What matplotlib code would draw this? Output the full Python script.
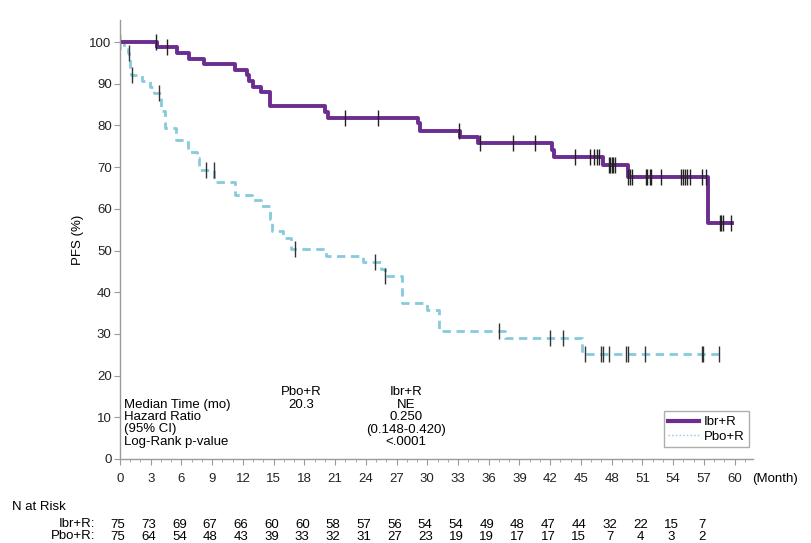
import matplotlib
matplotlib.use('Agg')
import matplotlib.pyplot as plt
from matplotlib.lines import Line2D
from matplotlib.ticker import MultipleLocator

plt.rcParams['font.family'] = ['Liberation Sans Narrow', 'Liberation Sans', 'DejaVu Sans']
plt.rcParams['font.size'] = 9.5

# Kaplan-Meier steps (month, PFS %)
ibr_t = [0, 3.6, 5.6, 6.7, 8.2, 11.2, 12.4, 12.6, 13.0, 13.8, 14.6, 20.0, 20.3,
         29.1, 29.3, 33.2, 35.0, 42.2, 42.4, 47.2, 49.6, 57.4, 59.8]
ibr_s = [100, 98.7, 97.3, 96.0, 94.7, 93.3, 92.0, 90.7, 89.3, 88.0, 84.6, 83.3, 81.9,
         80.5, 78.7, 77.3, 75.7, 74.1, 72.5, 70.5, 67.7, 56.5, 56.5]
ibr_cens_t = [0, 3.5, 4.6, 22.0, 25.2, 33.1, 35.1, 38.4, 40.5, 44.4, 45.9, 46.3, 46.6,
              46.8, 47.7, 47.8, 48.0, 48.1, 48.3, 49.6, 49.8, 50.0, 51.4, 51.5, 51.7,
              51.8, 52.8, 54.8, 55.0, 55.2, 55.4, 55.7, 56.8, 57.2, 58.6, 58.7, 58.9, 59.7]
ibr_cens_s = [100, 100, 98.7, 81.9, 81.9, 78.7, 75.7, 75.7, 75.7, 72.5, 72.5, 72.5, 72.5,
              72.5, 70.5, 70.5, 70.5, 70.5, 70.5, 67.7, 67.7, 67.7, 67.7, 67.7, 67.7,
              67.7, 67.7, 67.7, 67.7, 67.7, 67.7, 67.7, 67.7, 67.7, 56.5, 56.5, 56.5, 56.5]

pbo_t = [0, 0.4, 0.8, 0.9, 1.0, 1.1, 2.1, 2.9, 3.3, 4.0, 4.4, 5.5, 6.6, 7.5, 7.7, 9.2,
         11.2, 12.9, 13.8, 14.6, 14.8, 15.9, 16.7, 20.1, 23.7, 25.5, 25.9, 27.5, 30.0,
         31.1, 37.6, 45.1, 58.5]
pbo_s = [100, 98.7, 97.3, 96.0, 93.3, 92.0, 90.7, 89.3, 87.9, 83.5, 79.4, 76.5, 73.7,
         72.2, 69.2, 66.5, 63.3, 62.1, 60.6, 57.6, 54.7, 53.1, 50.4, 48.7, 47.2, 45.6,
         44.0, 37.3, 35.7, 30.8, 29.0, 25.2, 25.2]
pbo_cens_t = [0.9, 1.2, 3.8, 8.4, 9.2, 17.1, 24.9, 25.9, 37.0, 42.0, 43.3, 45.4, 47.0,
              47.2, 47.7, 49.4, 49.6, 51.3, 56.8, 56.9, 58.5]
pbo_cens_s = [97.3, 92.0, 87.9, 69.2, 69.2, 50.4, 47.2, 44.0, 30.8, 29.0, 29.0, 25.2, 25.2,
              25.2, 25.2, 25.2, 25.2, 25.2, 25.2, 25.2, 25.2]

risk_months = [0, 3, 6, 9, 12, 15, 18, 21, 24, 27, 30, 33, 36, 39, 42, 45, 48, 51, 54, 57]
ibr_risk = [75, 73, 69, 67, 66, 60, 60, 58, 57, 56, 54, 54, 49, 48, 47, 44, 32, 22, 15, 7]
pbo_risk = [75, 64, 54, 48, 43, 39, 33, 32, 31, 27, 23, 19, 19, 17, 17, 15, 7, 4, 3, 2]

purple = '#6b2d8f'
cyan = '#86cbdc'
grey = '#9a9a9a'

fig = plt.figure(figsize=(8.12, 5.43), dpi=100)
ax = fig.add_axes([0.1478, 0.1547, 0.7795, 0.8085])

ax.step(pbo_t, pbo_s, where='post', color=cyan, lw=2, linestyle=(0, (3, 2)))
ax.step(ibr_t, ibr_s, where='post', color=purple, lw=2.8)
ax.plot(pbo_cens_t, pbo_cens_s, linestyle='none', marker='|', color='#333333', ms=12, mew=1)
ax.plot(ibr_cens_t, ibr_cens_s, linestyle='none', marker='|', color='#222222', ms=12, mew=1)

ax.set_xlim(0, 61.8)
ax.set_ylim(0, 105.3)
ax.xaxis.set_major_locator(MultipleLocator(3))
ax.xaxis.set_minor_locator(MultipleLocator(1))
ax.yaxis.set_major_locator(MultipleLocator(10))
for s in ['top', 'right']:
    ax.spines[s].set_visible(False)
for s in ['left', 'bottom']:
    ax.spines[s].set_color(grey)
    ax.spines[s].set_linewidth(1)
ax.tick_params(axis='both', which='both', color=grey, labelcolor='#222222', labelsize=9.5)
ax.tick_params(axis='x', which='major', length=4, pad=6)
ax.tick_params(axis='x', which='minor', length=2.5)
ax.tick_params(axis='y', length=4, pad=2)
ax.set_ylabel('PFS (%)', fontsize=9.5, labelpad=4)
ax.text(64.0, -0.045, '(Month)', transform=ax.get_xaxis_transform(),
        ha='center', va='center', fontsize=9.5)

# statistics block
ax.text(0.4, 14.5, 'Median Time (mo)\nHazard Ratio\n(95% CI)\nLog-Rank p-value',
        va='top', ha='left', fontsize=9.5, linespacing=1.05)
ax.text(17.7, 17.4, 'Pbo+R\n20.3', va='top', ha='center', fontsize=9.5, linespacing=1.05)
ax.text(27.9, 17.4, 'Ibr+R\nNE\n0.250\n(0.148-0.420)\n<.0001', va='top', ha='center',
        fontsize=9.5, linespacing=1.05)

handles = [Line2D([0], [0], color=purple, lw=3),
           Line2D([0], [0], color=cyan, lw=1, linestyle=':')]
leg = ax.legend(handles, ['Ibr+R', 'Pbo+R'], loc='lower right',
                bbox_to_anchor=(0.994, 0.027), borderaxespad=0, frameon=True,
                fancybox=False, fontsize=9.5, handlelength=2.3, handletextpad=0.4,
                borderpad=0.35, labelspacing=0.15)
leg.get_frame().set_edgecolor(grey)

# numbers at risk
fig.text(12 / 812, 1 - 507 / 543, 'N at Risk', ha='left', va='center', fontsize=9.5)
fig.text(95 / 812, 1 - 524 / 543, 'Ibr+R:', ha='right', va='center', fontsize=9.5)
fig.text(95 / 812, 1 - 536 / 543, 'Pbo+R:', ha='right', va='center', fontsize=9.5)
tr = ax.get_xaxis_transform()
for m, a, b in zip(risk_months, ibr_risk, pbo_risk):
    ax.text(m - 0.2, -66 / 439, str(a), transform=tr, ha='center', va='center',
            fontsize=9.5, clip_on=False)
    ax.text(m - 0.2, -78 / 439, str(b), transform=tr, ha='center', va='center',
            fontsize=9.5, clip_on=False)

fig.savefig('out.png', dpi=100)
